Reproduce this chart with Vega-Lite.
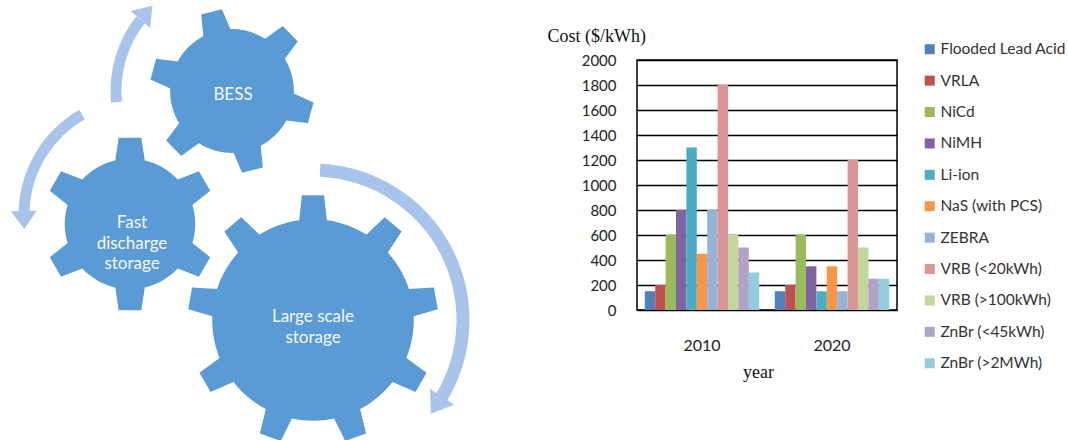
{
  "$schema": "https://vega.github.io/schema/vega-lite/v6.json",
  "padding": 0,
  "background": "white",
  "config": {"view": {"stroke": null}, "font": "Lato"},
  "datasets": {
    "gears": [
      {"name": "BESS", "x": 232, "y": 91},
      {"name": "Fast", "x": 130, "y": 224},
      {"name": "Large", "x": 313, "y": 320}
    ],
    "labels": [
      {"label": "BESS", "x": 233, "y": 95},
      {"label": "Fast\ndischarge\nstorage", "x": 132, "y": 223},
      {"label": "Large scale\nstorage", "x": 313, "y": 317}
    ],
    "arcs": [
      {"arrow": "A", "x": 232, "y": 91, "t1": -1.667, "t2": -0.9076},
      {"arrow": "B", "x": 140, "y": 215, "t1": -1.5359, "t2": -0.5236},
      {"arrow": "C", "x": 313, "y": 320, "t1": 0.0471, "t2": 2.1118}
    ],
    "heads": [
      {"arrow": "A", "x": 144.7, "y": 14.6, "rot": 41.2},
      {"arrow": "B", "x": 24.0, "y": 217.4, "rot": -181.2},
      {"arrow": "C", "x": 438.1, "y": 402.8, "rot": 213.5}
    ],
    "costs": [
      {"year": "2010", "tech": "Flooded Lead Acid", "cost": 150},
      {"year": "2010", "tech": "VRLA", "cost": 200},
      {"year": "2010", "tech": "NiCd", "cost": 600},
      {"year": "2010", "tech": "NiMH", "cost": 800},
      {"year": "2010", "tech": "Li-ion", "cost": 1300},
      {"year": "2010", "tech": "NaS (with PCS)", "cost": 450},
      {"year": "2010", "tech": "ZEBRA", "cost": 800},
      {"year": "2010", "tech": "VRB (<20kWh)", "cost": 1800},
      {"year": "2010", "tech": "VRB (>100kWh)", "cost": 600},
      {"year": "2010", "tech": "ZnBr (<45kWh)", "cost": 500},
      {"year": "2010", "tech": "ZnBr (>2MWh)", "cost": 300},
      {"year": "2020", "tech": "Flooded Lead Acid", "cost": 150},
      {"year": "2020", "tech": "VRLA", "cost": 200},
      {"year": "2020", "tech": "NiCd", "cost": 600},
      {"year": "2020", "tech": "NiMH", "cost": 350},
      {"year": "2020", "tech": "Li-ion", "cost": 150},
      {"year": "2020", "tech": "NaS (with PCS)", "cost": 350},
      {"year": "2020", "tech": "ZEBRA", "cost": 150},
      {"year": "2020", "tech": "VRB (<20kWh)", "cost": 1200},
      {"year": "2020", "tech": "VRB (>100kWh)", "cost": 500},
      {"year": "2020", "tech": "ZnBr (<45kWh)", "cost": 250},
      {"year": "2020", "tech": "ZnBr (>2MWh)", "cost": 250}
    ]
  },
  "bounds": "flush",
  "spacing": 157,
  "hconcat": [
    {
      "width": 480,
      "height": 440,
      "view": {"stroke": null},
      "encoding": {
        "x": {"field": "x", "type": "quantitative", "scale": {"domain": [0, 480], "nice": false, "zero": false}, "axis": null},
        "y": {"field": "y", "type": "quantitative", "scale": {"domain": [0, 440], "nice": false, "zero": false, "reverse": true}, "axis": null}
      },
      "layer": [
        {
          "data": {"name": "arcs"},
          "transform": [{"filter": "datum.arrow !== 'C'"}],
          "mark": {"type": "arc", "outerRadius": 121.5, "innerRadius": 110.5, "color": "#A9C4EB"},
          "encoding": {
            "theta": {"field": "t1", "type": "quantitative", "scale": null, "stack": null},
            "theta2": {"field": "t2"}
          }
        },
        {
          "data": {"name": "arcs"},
          "transform": [{"filter": "datum.arrow === 'C'"}],
          "mark": {"type": "arc", "outerRadius": 156.5, "innerRadius": 143.5, "color": "#A9C4EB"},
          "encoding": {
            "theta": {"field": "t1", "type": "quantitative", "scale": null, "stack": null},
            "theta2": {"field": "t2"}
          }
        },
        {
          "data": {"name": "heads"},
          "transform": [{"filter": "datum.arrow !== 'C'"}],
          "mark": {"type": "point", "filled": true, "opacity": 1, "color": "#A9C4EB", "size": 676, "shape": "M 0 -0.9 L 1 0.5 L -1 0.5 Z"},
          "encoding": {"angle": {"field": "rot", "type": "quantitative", "scale": null}}
        },
        {
          "data": {"name": "heads"},
          "transform": [{"filter": "datum.arrow === 'C'"}],
          "mark": {"type": "point", "filled": true, "opacity": 1, "color": "#A9C4EB", "size": 841, "shape": "M 0 -0.9 L 1 0.5 L -1 0.5 Z"},
          "encoding": {"angle": {"field": "rot", "type": "quantitative", "scale": null}}
        },
        {
          "data": {"name": "gears"},
          "transform": [{"filter": "datum.name === 'BESS'"}],
          "mark": {"type": "point", "filled": true, "opacity": 1, "color": "#5B9BD5", "size": 27225, "angle": -14.5,
            "shape": "M -0.17 -0.7305 L -0.13 -0.99 L 0.13 -0.99 L 0.17 -0.7305 A 0.75 0.75 0 0 1 0.5476 -0.5125 L 0.7923 -0.6076 L 0.9223 -0.3824 L 0.7176 -0.2181 A 0.75 0.75 0 0 1 0.7176 0.2181 L 0.9223 0.3824 L 0.7923 0.6076 L 0.5476 0.5125 A 0.75 0.75 0 0 1 0.17 0.7305 L 0.13 0.99 L -0.13 0.99 L -0.17 0.7305 A 0.75 0.75 0 0 1 -0.5476 0.5125 L -0.7923 0.6076 L -0.9223 0.3824 L -0.7176 0.2181 A 0.75 0.75 0 0 1 -0.7176 -0.2181 L -0.9223 -0.3824 L -0.7923 -0.6076 L -0.5476 -0.5125 A 0.75 0.75 0 0 1 -0.17 -0.7305 Z"}
        },
        {
          "data": {"name": "gears"},
          "transform": [{"filter": "datum.name === 'Fast'"}],
          "mark": {"type": "point", "filled": true, "opacity": 1, "color": "#5B9BD5", "size": 30276, "angle": 0,
            "shape": "M -0.17 -0.7305 L -0.13 -0.99 L 0.13 -0.99 L 0.17 -0.7305 A 0.75 0.75 0 0 1 0.5476 -0.5125 L 0.7923 -0.6076 L 0.9223 -0.3824 L 0.7176 -0.2181 A 0.75 0.75 0 0 1 0.7176 0.2181 L 0.9223 0.3824 L 0.7923 0.6076 L 0.5476 0.5125 A 0.75 0.75 0 0 1 0.17 0.7305 L 0.13 0.99 L -0.13 0.99 L -0.17 0.7305 A 0.75 0.75 0 0 1 -0.5476 0.5125 L -0.7923 0.6076 L -0.9223 0.3824 L -0.7176 0.2181 A 0.75 0.75 0 0 1 -0.7176 -0.2181 L -0.9223 -0.3824 L -0.7923 -0.6076 L -0.5476 -0.5125 A 0.75 0.75 0 0 1 -0.17 -0.7305 Z"}
        },
        {
          "data": {"name": "gears"},
          "transform": [{"filter": "datum.name === 'Large'"}],
          "mark": {"type": "point", "filled": true, "opacity": 1, "color": "#5B9BD5", "size": 63504, "angle": 0,
            "shape": "M -0.11 -0.7924 L -0.088 -0.99 L 0.088 -0.99 L 0.11 -0.7924 A 0.8 0.8 0 0 1 0.4251 -0.6777 L 0.569 -0.8149 L 0.7038 -0.7017 L 0.5937 -0.5363 A 0.8 0.8 0 0 1 0.7613 -0.2459 L 0.9597 -0.2586 L 0.9903 -0.0852 L 0.7995 -0.0293 A 0.8 0.8 0 0 1 0.7412 0.3009 L 0.9013 0.4188 L 0.8133 0.5712 L 0.6312 0.4915 A 0.8 0.8 0 0 1 0.3744 0.707 L 0.4213 0.9002 L 0.2559 0.9604 L 0.1676 0.7822 A 0.8 0.8 0 0 1 -0.1676 0.7822 L -0.2559 0.9604 L -0.4213 0.9002 L -0.3744 0.707 A 0.8 0.8 0 0 1 -0.6312 0.4915 L -0.8133 0.5712 L -0.9013 0.4188 L -0.7412 0.3009 A 0.8 0.8 0 0 1 -0.7995 -0.0293 L -0.9903 -0.0852 L -0.9597 -0.2586 L -0.7613 -0.2459 A 0.8 0.8 0 0 1 -0.5937 -0.5363 L -0.7038 -0.7017 L -0.569 -0.8149 L -0.4251 -0.6777 A 0.8 0.8 0 0 1 -0.11 -0.7924 Z"}
        },
        {
          "data": {"name": "labels"},
          "mark": {"type": "text", "color": "#F5F8FC", "font": "Lato", "fontSize": 17, "lineBreak": "\n", "lineHeight": 20.5, "align": "center", "baseline": "middle"},
          "encoding": {"text": {"field": "label", "type": "nominal"}}
        }
      ]
    },
    {
      "bounds": "flush",
      "spacing": 0,
      "vconcat": [
        {
          "width": 260,
          "height": 60,
          "view": {"stroke": null},
          "data": {"values": []},
          "mark": "point",
          "encoding": {}
        },
        {
          "width": 260,
          "height": 250,
          "view": {"stroke": "#000", "strokeWidth": 1.5},
          "data": {"name": "costs"},
          "mark": {"type": "bar"},
          "encoding": {
            "x": {
              "field": "year", "type": "nominal",
              "scale": {"paddingInner": 0.12, "paddingOuter": 0.06},
              "axis": {
                "title": "year", "labelAngle": 0, "labelFont": "Lato", "labelFontSize": 16, "labelColor": "#222",
                "ticks": false, "domain": false, "labelPadding": 27,
                "titleFont": "Liberation Serif", "titleFontSize": 18, "titleFontWeight": "normal", "titleColor": "#111",
                "titleX": 121, "titleY": 62, "titleBaseline": "middle", "titleAlign": "center"
              }
            },
            "xOffset": {
              "field": "tech", "type": "nominal",
              "sort": ["Flooded Lead Acid", "VRLA", "NiCd", "NiMH", "Li-ion", "NaS (with PCS)", "ZEBRA", "VRB (<20kWh)", "VRB (>100kWh)", "ZnBr (<45kWh)", "ZnBr (>2MWh)"],
              "scale": {"paddingInner": 0, "paddingOuter": 0}
            },
            "y": {
              "field": "cost", "type": "quantitative",
              "scale": {"domain": [0, 2000], "nice": false},
              "axis": {
                "values": [0, 200, 400, 600, 800, 1000, 1200, 1400, 1600, 1800, 2000], "format": "d",
                "grid": true, "gridColor": "#000", "gridWidth": 1.5, "domain": false, "ticks": false,
                "labelPadding": 21, "labelFont": "Lato", "labelFontSize": 15, "labelColor": "#222",
                "title": "Cost ($/kWh)", "titleAngle": 0, "titleAlign": "left", "titleBaseline": "middle",
                "titleX": -90, "titleY": -24, "titleFont": "Liberation Serif", "titleFontSize": 18,
                "titleFontWeight": "normal", "titleColor": "#111"
              }
            },
            "color": {
              "field": "tech", "type": "nominal",
              "sort": ["Flooded Lead Acid", "VRLA", "NiCd", "NiMH", "Li-ion", "NaS (with PCS)", "ZEBRA", "VRB (<20kWh)", "VRB (>100kWh)", "ZnBr (<45kWh)", "ZnBr (>2MWh)"],
              "scale": {
                "domain": ["Flooded Lead Acid", "VRLA", "NiCd", "NiMH", "Li-ion", "NaS (with PCS)", "ZEBRA", "VRB (<20kWh)", "VRB (>100kWh)", "ZnBr (<45kWh)", "ZnBr (>2MWh)"],
                "range": ["#4F81BD", "#C0504D", "#9BBB59", "#8064A2", "#4BACC6", "#F79646", "#95B3D7", "#D99694", "#C3D69B", "#B3A2C7", "#93CDDD"]
              },
              "legend": {
                "orient": "none", "legendX": 922, "legendY": 41.5, "title": null, "padding": 0,
                "symbolType": "square", "symbolSize": 100, "symbolStrokeWidth": 0, "symbolOpacity": 1,
                "labelFont": "Lato", "labelFontSize": 15.5, "labelColor": "#333", "labelLimit": 200,
                "rowPadding": 14.4, "labelOffset": 3
              }
            }
          }
        }
      ]
    }
  ]
}
